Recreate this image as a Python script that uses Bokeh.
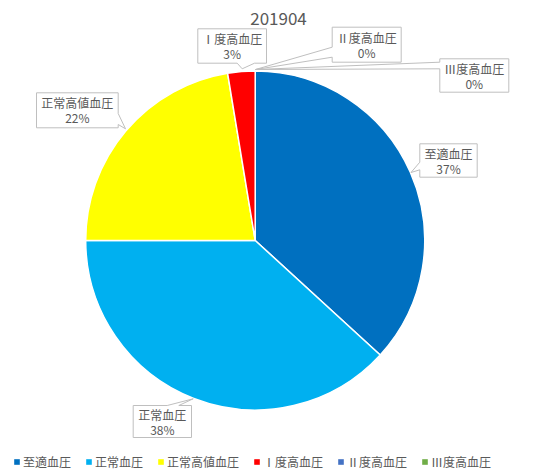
import math
import numpy as np
from bokeh.plotting import figure
from bokeh.models import ColumnDataSource, Range1d, Legend, LegendItem
from bokeh.core.properties import value
from bokeh.embed import file_html
from bokeh.resources import INLINE

# ---- data ----
title_text = "201904"
categories = ["至適血圧", "正常血圧", "正常高値血圧", "Ⅰ度高血圧", "Ⅱ度高血圧", "Ⅲ度高血圧"]
shares = [36.8, 38.2, 22.4, 2.6, 0.0, 0.0]
colors = ["#0070C0", "#00B0F0", "#FFFF00", "#FF0000", "#4472C4", "#70AD47"]

# ---- layout (pixel coordinates of the reference picture) ----
W, H = 526, 470
FONT = "Noto Sans CJK JP"
TXT = "#595959"
BORDER = "#BFBFBF"


def Y(sy):
    return H - sy


CX, CY, R = 254.7, 240.0, 169.5
TITLE_X, TITLE_Y = 278, 18

# callout boxes: left, top, right, bottom, side, base_a, base_b, tip_x, tip_y
callouts = [
    (419.3, 143.3, 476.7, 176.7, "left", 161.7, 169.3, 410.5, 172.0),
    (132.7, 405.0, 191.0, 437.0, "top", 166.7, 178.3, 192.7, 398.3),
    (36.0, 92.3, 117.7, 127.3, "right", 113.0, 124.0, 125.0, 128.3),
    (197.3, 28.3, 266.0, 62.7, "bottom", 236.7, 254.0, 241.7, 68.3),
    (331.7, 26.7, 400.7, 61.7, "left", 46.7, 56.7, 255.0, 69.0),
    (439.3, 58.3, 508.3, 91.7, "left", 61.7, 68.3, 255.0, 69.0),
]

p = figure(width=W, height=H, x_range=Range1d(0, W), y_range=Range1d(0, H),
           x_axis_type=None, y_axis_type=None, toolbar_location=None,
           output_backend="svg", min_border=0, outline_line_color=None,
           background_fill_color="white", border_fill_color="white")
p.grid.visible = False

# ---- pie ----
total = sum(shares)
cum = np.cumsum([0.0] + list(shares)) / total
starts, ends, wcols = [], [], []
for i, s in enumerate(shares):
    if s <= 0:
        continue
    starts.append(math.pi / 2 - 2 * math.pi * cum[i + 1])
    ends.append(math.pi / 2 - 2 * math.pi * cum[i])
    wcols.append(colors[i])
wsrc = ColumnDataSource(dict(start=starts, end=ends, color=wcols))
p.wedge(x=CX, y=Y(CY), radius=R, start_angle="start", end_angle="end",
        fill_color="color", line_color="white", line_width=1.5, source=wsrc)

# ---- callouts ----
xs, ys = [], []
for (l, t, r, b, side, a, bb, tx, ty) in callouts:
    if side == "top":
        pts = [(l, t), (a, t), (tx, ty), (bb, t), (r, t), (r, b), (l, b)]
    elif side == "right":
        pts = [(l, t), (r, t), (r, a), (tx, ty), (r, bb), (r, b), (l, b)]
    elif side == "bottom":
        pts = [(l, t), (r, t), (r, b), (bb, b), (tx, ty), (a, b), (l, b)]
    else:
        pts = [(l, t), (r, t), (r, b), (l, b), (l, bb), (tx, ty), (l, a)]
    xs.append([q[0] for q in pts])
    ys.append([Y(q[1]) for q in pts])
p.patches(xs=xs, ys=ys, fill_color="white", line_color=BORDER, line_width=1)

lx, ly1, ly2, l1, l2 = [], [], [], [], []
for (l, t, r, b, *_), cat, s in zip(callouts, categories, shares):
    cx = (l + r) / 2
    cy = (t + b) / 2
    lx.append(cx)
    ly1.append(Y(cy - 7.5))
    ly2.append(Y(cy + 7.5))
    l1.append(cat)
    l2.append(f"{int(round(s / total * 100))}%")
p.text(x=lx, y=ly1, text=l1, text_align="center", text_baseline="middle",
       text_font=value(FONT), text_font_size="12px", text_color=TXT)
p.text(x=lx, y=ly2, text=l2, text_align="center", text_baseline="middle",
       text_font=value(FONT), text_font_size="12px", text_color=TXT)

# ---- title ----
p.text(x=[TITLE_X], y=[Y(TITLE_Y)], text=[title_text], text_align="center",
       text_baseline="alphabetic", text_font=value(FONT), text_font_size="17px",
       text_color=TXT)

# ---- legend ----
lsrc = ColumnDataSource(dict(x=[np.nan] * len(categories), y=[np.nan] * len(categories), c=colors))
lr = p.rect(x="x", y="y", width=1, height=1, fill_color="c", line_color=None, source=lsrc)
items = [LegendItem(label=c, renderers=[lr], index=i) for i, c in enumerate(categories)]
legend = Legend(items=items, orientation="horizontal", location=(13, 0),
                glyph_width=7, glyph_height=7, label_standoff=3, spacing=14,
                padding=0, margin=0, border_line_alpha=0, background_fill_alpha=0,
                label_text_font=FONT, label_text_font_size="12px",
                label_text_color=TXT, label_height=12)
p.add_layout(legend, "center")

open("out.html", "w").write(file_html(p, INLINE))
